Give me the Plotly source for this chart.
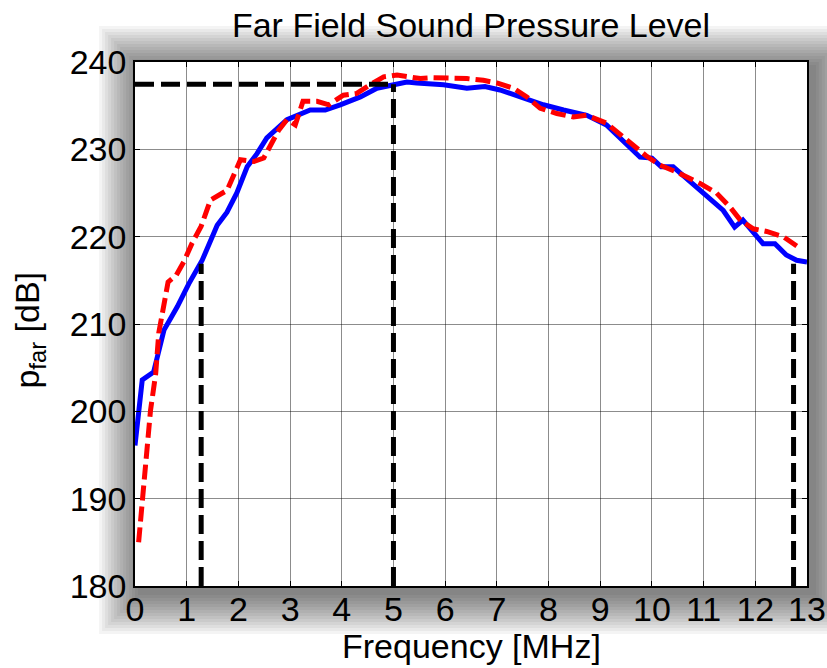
import plotly.graph_objects as go

# ---------------- data ----------------
blue_f = [0.0, 0.14, 0.36, 0.56, 0.82, 1.04, 1.30, 1.59, 1.78, 1.97, 2.17, 2.36,
          2.55, 2.75, 2.94, 3.39, 3.68, 3.97, 4.36, 4.68, 5.0, 5.26, 5.45, 5.97,
          6.42, 6.77, 7.06, 7.45, 7.90, 8.29, 8.74, 9.12, 9.77, 10.0, 10.18, 10.41,
          10.93, 11.38, 11.60, 11.76, 12.15, 12.38, 12.60, 12.80, 13.0]
blue_v = [196.1, 203.6, 204.5, 209.3, 212.0, 214.6, 217.3, 221.3, 222.8, 225.0, 228.0, 229.5,
          231.3, 232.4, 233.4, 234.5, 234.5, 235.1, 236.0, 237.0, 237.4, 237.7, 237.6, 237.4,
          237.0, 237.2, 236.8, 236.0, 235.1, 234.5, 233.9, 232.8, 229.1, 229.0, 228.0, 228.0,
          225.3, 223.0, 221.1, 221.9, 219.2, 219.2, 217.9, 217.3, 217.1]

red_f = [0.07, 0.17, 0.30, 0.40, 0.46, 0.64, 0.80, 0.95, 1.10, 1.28, 1.46, 1.78,
         2.04, 2.30, 2.49, 2.78, 2.94, 3.10, 3.25, 3.52, 3.75, 4.03, 4.29, 4.55,
         4.81, 5.07, 5.52, 5.77, 6.42, 6.74, 7.0, 7.32, 7.58, 7.84, 8.16, 8.48,
         8.74, 9.12, 9.57, 9.90, 10.15, 10.48, 10.93, 11.25, 11.51, 11.71, 11.96,
         12.22, 12.54, 12.86]
red_v = [185.0, 191.0, 200.1, 204.3, 209.0, 214.8, 215.6, 217.2, 219.2, 221.2, 224.2, 225.3,
         228.8, 228.6, 229.0, 232.2, 233.4, 232.8, 235.5, 235.5, 235.1, 236.2, 236.4, 237.4,
         238.3, 238.5, 238.1, 238.2, 238.1, 237.9, 237.6, 237.0, 236.0, 234.7, 234.1, 233.7,
         233.9, 233.0, 230.7, 229.2, 228.2, 227.4, 226.1, 225.0, 223.4, 221.9, 220.9,
         220.6, 220.0, 218.7]

peak_level = 237.45     # horizontal marker level [dB]
band_level = 216.9      # level of the band-edge markers [dB]
f_low, f_peak, f_high = 1.28, 5.0, 12.74
y_floor = 180

x_ticks = list(range(0, 14))
y_ticks = [180, 190, 200, 210, 220, 230, 240]

# ---------------- figure ----------------
FONT = "Liberation Sans, Arial, sans-serif"
FS = 34
W, H = 827, 668
L, R, T, B = 134.5, 20, 62, 82.3
pw, ph = W - L - R, H - T - B

fig = go.Figure()

fig.add_trace(go.Scatter(x=blue_f, y=blue_v, mode="lines",
                         line=dict(color="#0000ff", width=5), showlegend=False))
fig.add_trace(go.Scatter(x=red_f, y=red_v, mode="lines",
                         line=dict(color="#ff0000", width=5, dash="15px,6px"),
                         showlegend=False))

black = dict(color="black", width=5, dash="19px,7px")
fig.add_trace(go.Scatter(x=[0, f_peak], y=[peak_level, peak_level], mode="lines",
                         line=black, showlegend=False))
for fx, lv in [(f_low, band_level), (f_peak, peak_level), (f_high, band_level)]:
    fig.add_trace(go.Scatter(x=[fx, fx], y=[y_floor, lv], mode="lines",
                             line=black, showlegend=False))

# soft drop shadow around the axes box
shapes = []
off = 6
for k in range(1, 15):
    e = 3.0 * k
    shapes.append(dict(type="rect", xref="paper", yref="paper", layer="below",
                       x0=(-e + off) / pw, x1=1 + (e + off) / pw,
                       y0=(-e - off) / ph, y1=1 + (e - off) / ph,
                       fillcolor="black", opacity=0.045, line=dict(width=0)))
shapes.append(dict(type="rect", xref="paper", yref="paper", layer="below",
                   x0=0, x1=1, y0=0, y1=1, fillcolor="white", line=dict(width=0)))

annotations = [
    dict(text="Frequency [MHz]", xref="paper", yref="paper", x=0.5,
         y=-(646 - (T + ph)) / ph, xanchor="center", yanchor="middle",
         showarrow=False, font=dict(family=FONT, size=FS, color="black")),
    dict(text="p<sub>far</sub> [dB]", xref="paper", yref="paper",
         x=(28 - L) / pw, y=0.5 - 6 / ph, xanchor="center", yanchor="middle",
         textangle=-90, showarrow=False, font=dict(family=FONT, size=FS, color="black")),
]

fig.update_layout(
    width=W, height=H,
    margin=dict(l=L, r=R, t=T, b=B, autoexpand=False),
    paper_bgcolor="white", plot_bgcolor="white",
    font=dict(family=FONT, size=FS, color="black"),
    title=dict(text="Far Field Sound Pressure Level", x=0.5, xref="paper",
               xanchor="center", y=1 - 25 / H, yref="container", yanchor="middle",
               font=dict(family=FONT, size=FS, color="black")),
    shapes=shapes,
    annotations=annotations,
)

axis_common = dict(showline=True, linecolor="black", linewidth=1.5, mirror="ticks",
                   ticks="inside", ticklen=5, tickcolor="black", tickwidth=1,
                   showgrid=True, gridcolor="rgba(0,0,0,0.45)", gridwidth=1,
                   zeroline=False, automargin=False,
                   tickfont=dict(family=FONT, size=FS, color="black"))

fig.update_xaxes(range=[0, 13], tickvals=x_ticks, ticktext=[str(t) for t in x_ticks],
                 ticklabelstandoff=-8, **axis_common)
fig.update_yaxes(range=[180, 240], tickvals=y_ticks, ticktext=[str(t) for t in y_ticks],
                 **axis_common)

fig.write_html("out.html",
               config={"displayModeBar": False},
               post_script="document.body.style.margin='0';"
                           "document.body.style.overflow='hidden';")
